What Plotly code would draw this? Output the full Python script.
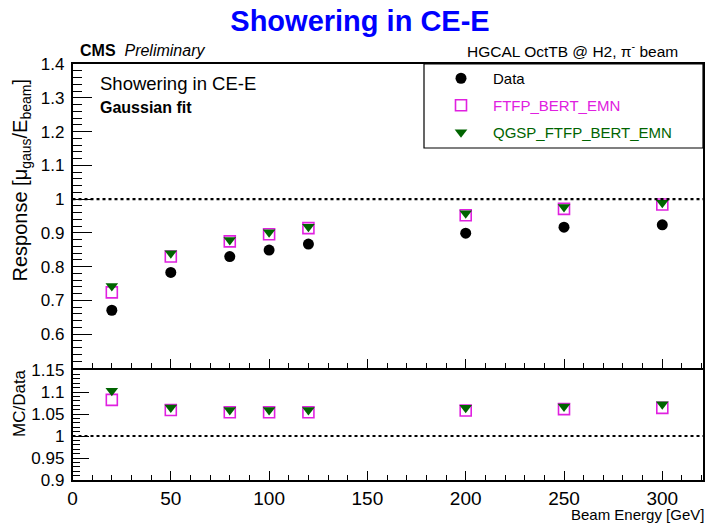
import plotly.graph_objects as go

W, H = 707, 523

energies = [20, 50, 80, 100, 120, 200, 250, 300]
resp_data = [0.671, 0.783, 0.830, 0.849, 0.867, 0.899, 0.917, 0.924]
resp_ftfp = [0.724, 0.830, 0.875, 0.896, 0.914, 0.952, 0.971, 0.984]
resp_qgsp = [0.743, 0.840, 0.879, 0.902, 0.918, 0.958, 0.977, 0.989]
ratio_ftfp = [1.082, 1.059, 1.054, 1.054, 1.054, 1.058, 1.061, 1.064]
ratio_qgsp = [1.103, 1.065, 1.059, 1.059, 1.059, 1.064, 1.067, 1.072]

FONT = "Liberation Sans, Arial, sans-serif"
MAG = "#E020E0"
GRN = "#006400"


def px(x):
    return x / W


def py(y):
    return 1 - y / H


fig = go.Figure()

fig.add_trace(go.Scatter(x=energies, y=resp_data, mode="markers", name="Data",
                         legendgroup="a",
                         marker=dict(symbol="circle", size=11, color="black"),
                         xaxis="x", yaxis="y"))
fig.add_trace(go.Scatter(x=energies, y=resp_ftfp, mode="markers",
                         name="<span style='color:%s'>FTFP_BERT_EMN</span>" % MAG,
                         legendgroup="b",
                         marker=dict(symbol="square-open", size=11, color=MAG,
                                     line=dict(width=1.6)),
                         xaxis="x", yaxis="y"))
fig.add_trace(go.Scatter(x=energies, y=resp_qgsp, mode="markers",
                         name="<span style='color:%s'>QGSP_FTFP_BERT_EMN</span>" % GRN,
                         legendgroup="c",
                         marker=dict(symbol="triangle-down", size=11, color=GRN),
                         xaxis="x", yaxis="y"))
fig.add_trace(go.Scatter(x=energies, y=ratio_ftfp, mode="markers", showlegend=False,
                         marker=dict(symbol="square-open", size=11, color=MAG,
                                     line=dict(width=1.6)),
                         xaxis="x2", yaxis="y2"))
fig.add_trace(go.Scatter(x=energies, y=ratio_qgsp, mode="markers", showlegend=False,
                         marker=dict(symbol="triangle-down", size=11, color=GRN),
                         xaxis="x2", yaxis="y2"))

xdom = [px(72.5), px(703)]
xr = [0, 320.7]

common_x = dict(range=xr, domain=xdom, showline=True, linecolor="black", linewidth=1.5,
                mirror=True, ticks="inside", tickcolor="black", dtick=50, tick0=0,
                showgrid=False, zeroline=False, automargin=False,
                minor=dict(ticks="inside", dtick=10, ticklen=5, tickcolor="black"))

fig.update_layout(
    width=W, height=H,
    margin=dict(l=0, r=0, t=0, b=0, pad=0, autoexpand=False),
    paper_bgcolor="white", plot_bgcolor="white",
    font=dict(family=FONT, color="black"),
    title=dict(text="<b>Showering in CE-E</b>", x=px(360), xanchor="center",
               y=py(21), yanchor="middle", automargin=False,
               font=dict(size=29, color="#0000FF", family=FONT)),
    xaxis=dict(**common_x, anchor="y", ticklen=9, showticklabels=False),
    yaxis=dict(domain=[py(368), py(64)], range=[0.5, 1.4], dtick=0.1, tick0=0,
               showline=True, linecolor="black", linewidth=1.5, mirror=True,
               ticks="inside", ticklen=20, tickcolor="black", automargin=False,
               minor=dict(ticks="inside", dtick=0.02, ticklen=10, tickcolor="black"),
               showgrid=False, zeroline=False, anchor="x",
               tickfont=dict(size=17), tickformat=".1~f", ticklabelstandoff=3,
               labelalias={"0.5": " "}),
    xaxis2=dict(**common_x, anchor="y2", ticklen=9,
                tickfont=dict(size=19), ticklabelstandoff=0),
    yaxis2=dict(domain=[py(480), py(370)], range=[0.9, 1.15], dtick=0.05, tick0=0,
                showline=True, linecolor="black", linewidth=1.5, mirror=True,
                ticks="inside", ticklen=17, tickcolor="black", automargin=False,
                minor=dict(ticks="inside", dtick=0.01, ticklen=8, tickcolor="black"),
                showgrid=False, zeroline=False, anchor="x2",
                tickfont=dict(size=17), ticklabelstandoff=3),
    legend=dict(x=px(429), y=py(62), xanchor="left", yanchor="top",
                bgcolor="rgba(0,0,0,0)", borderwidth=0,
                font=dict(size=15, family=FONT), tracegroupgap=4.5,
                itemwidth=54),
    showlegend=True,
)

# dotted reference lines at 1
fig.add_shape(type="line", xref="x", yref="y", x0=xr[0], x1=xr[1], y0=1, y1=1,
              line=dict(color="black", width=2.2, dash="dot"))
fig.add_shape(type="line", xref="x2", yref="y2", x0=xr[0], x1=xr[1], y0=1, y1=1,
              line=dict(color="black", width=2.2, dash="dot"))
# legend box
fig.add_shape(type="rect", xref="paper", yref="paper",
              x0=px(424), x1=px(703), y0=py(148), y1=py(64),
              line=dict(color="black", width=1.2), fillcolor="rgba(0,0,0,0)")

ann = [
    dict(text="<b>CMS</b>  <i>Preliminary</i>", x=px(79), y=py(50), xanchor="left",
         yanchor="middle", size=16),
    dict(text="HGCAL OctTB @ H2, π<sup>-</sup> beam", x=px(679), y=py(50),
         xanchor="right", yanchor="middle", size=15.5),
    dict(text="Showering in CE-E", x=px(99), y=py(83), xanchor="left",
         yanchor="middle", size=18.5),
    dict(text="<b>Gaussian fit</b>", x=px(99), y=py(108), xanchor="left",
         yanchor="middle", size=16),
    dict(text="Beam Energy [GeV]", x=px(705), y=py(524), xanchor="right",
         yanchor="bottom", size=15),
]
for a in ann:
    fig.add_annotation(text=a["text"], x=a["x"], y=a["y"], xref="paper", yref="paper",
                       xanchor=a["xanchor"], yanchor=a["yanchor"], showarrow=False,
                       borderpad=0,
                       font=dict(size=a["size"], family=FONT, color="black"))

fig.add_annotation(text="Response [μ<sub>gaus</sub>/E<sub>beam</sub>]",
                   x=px(21), y=py(284), xref="paper", yref="paper",
                   xanchor="center", yanchor="bottom", textangle=-90, showarrow=False,
                   font=dict(size=20, family=FONT, color="black"))
fig.add_annotation(text="MC/Data", x=px(19), y=py(403), xref="paper", yref="paper",
                   xanchor="center", yanchor="middle", textangle=-90, showarrow=False,
                   font=dict(size=17, family=FONT, color="black"))

fig.write_html("out.html")
